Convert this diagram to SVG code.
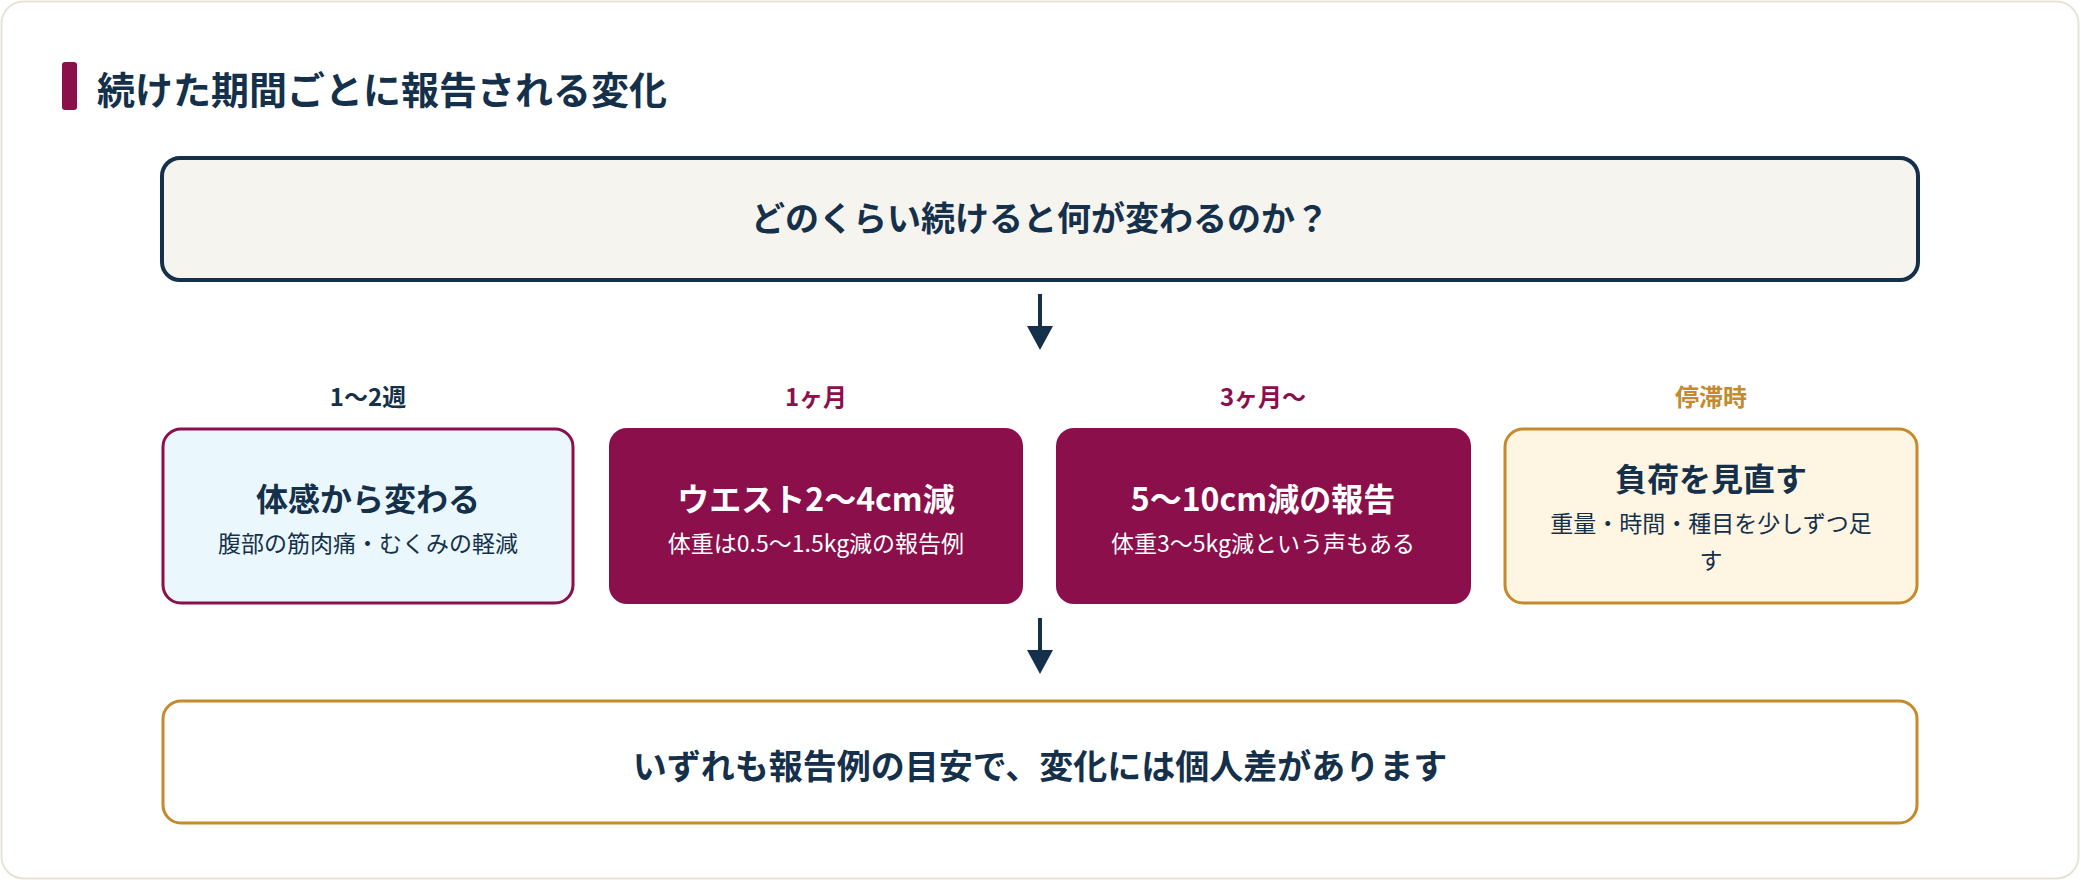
<svg xmlns="http://www.w3.org/2000/svg" width="2080" height="880" viewBox="0 0 2080 880">
<style>
text{font-family:"Noto Sans CJK JP","Noto Sans",sans-serif;text-anchor:middle;font-weight:700}
.h{font-size:32px}
.s{font-size:23px;font-weight:400}
.lbl{font-size:24px}
.navy{fill:#15304a}
.mar{fill:#8a0f4b}
.gold{fill:#c48a2c}
.white{fill:#fff}
</style>
<defs>
<marker id="ah" viewBox="0 0 10 10" refX="9" refY="5" markerWidth="10" markerHeight="10" markerUnits="userSpaceOnUse" orient="auto"><path d="M0,0L10,5L0,10z" fill="#15304a"/></marker>
</defs>
<rect x="1.5" y="1.5" width="2077" height="877" rx="22" fill="#fff" stroke="#e6e3d6" stroke-width="2"/>
<g id="title">
<rect x="62" y="62" width="15" height="48" rx="3" fill="#8a0f4b"/>
<text x="97" y="104" style="text-anchor:start;font-size:38px" class="navy">続けた期間ごとに報告される変化</text>
</g>
<g id="top">
<rect x="162" y="158" width="1756" height="122" rx="18" fill="#f5f4ef" stroke="#15304a" stroke-width="4"/>
<text x="1040" y="231" style="font-size:34px" class="navy">どのくらい続けると何が変わるのか？</text>
</g>
<g id="connectors" stroke="#15304a" stroke-width="4" fill="#15304a">
<line x1="1040" y1="294" x2="1040" y2="330"/>
<path d="M1027,326L1053,326L1040,350z" stroke="none"/>
<line x1="1040" y1="618" x2="1040" y2="654"/>
<path d="M1027,650L1053,650L1040,674z" stroke="none"/>
</g>
<g id="n1">
<text x="368" y="406" class="lbl navy">1〜2週</text>
<rect x="163" y="429" width="410" height="174" rx="18" fill="#eaf7fc" stroke="#8a0f4b" stroke-width="3"/>
<text x="368" y="511" class="h navy">体感から変わる</text>
<text x="368" y="552" class="s navy">腹部の筋肉痛・むくみの軽減</text>
</g>
<g id="n2">
<text x="816" y="406" class="lbl mar">1ヶ月</text>
<rect x="609" y="428" width="414" height="176" rx="18" fill="#8a0f4b"/>
<text x="816" y="511" class="h white">ウエスト2〜4cm減</text>
<text x="816" y="552" class="s white">体重は0.5〜1.5kg減の報告例</text>
</g>
<g id="n3">
<text x="1263" y="406" class="lbl mar">3ヶ月〜</text>
<rect x="1056" y="428" width="415" height="176" rx="18" fill="#8a0f4b"/>
<text x="1263" y="511" class="h white">5〜10cm減の報告</text>
<text x="1263" y="552" class="s white">体重3〜5kg減という声もある</text>
</g>
<g id="n4">
<text x="1711" y="406" class="lbl gold">停滞時</text>
<rect x="1505" y="429" width="412" height="174" rx="18" fill="#fff5e3" stroke="#c48a2c" stroke-width="3"/>
<text x="1711" y="491" class="h navy">負荷を見直す</text>
<text x="1711" y="532" class="s navy">重量・時間・種目を少しずつ足</text>
<text x="1711" y="569" class="s navy">す</text>
</g>
<g id="bottom">
<rect x="163" y="701" width="1754" height="122" rx="18" fill="#fff" stroke="#c48a2c" stroke-width="3"/>
<text x="1040" y="779" style="font-size:34px" class="navy">いずれも報告例の目安で、変化には個人差があります</text>
</g>
</svg>
